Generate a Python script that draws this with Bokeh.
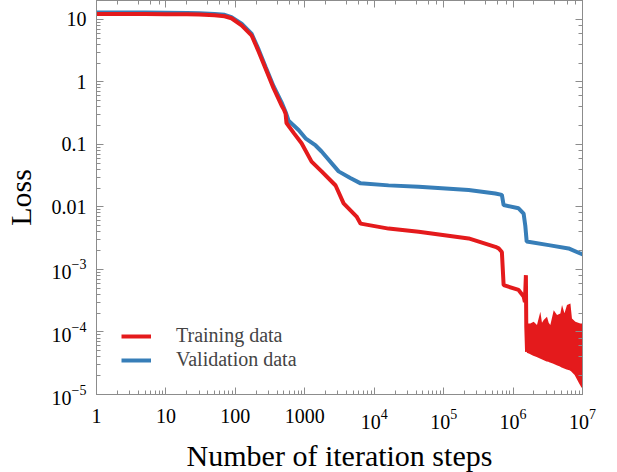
from bokeh.plotting import figure
from bokeh.models import LogAxis, LogTickFormatter
from bokeh.embed import file_html
from bokeh.resources import INLINE

# Training loss (red)
train_x = [1, 2, 5, 10, 20, 30, 50, 70, 88, 123, 171, 216, 272, 355, 463, 500, 529,
           545, 700, 899, 1253, 1746, 2778, 3624, 5575, 6370, 16100, 43700, 229000,
           556000, 620000, 690000, 731000, 1.2e6, 1.42e6, 1.48e6, 1.53e6, 1.55e6, 1.59e6]
train_y = [12.2, 12.2, 12.2, 12.1, 12.0, 11.9, 11.6, 11.2, 10.4, 8.0, 5.55, 3.07, 1.64,
           0.79, 0.42, 0.36, 0.31, 0.22, 0.15, 0.104, 0.053, 0.037, 0.022, 0.0114,
           0.0070, 0.0054, 0.0045, 0.0040, 0.00313, 0.0023, 0.00217, 0.0019, 0.00056,
           0.00047, 0.00037, 0.00030, 0.00081, 0.00012, 4.8e-5]

# Noisy tail of the training loss: lower and upper envelopes
noise_x = [1.59e6, 1.77e6, 1.98e6, 2.21e6, 2.47e6, 2.61e6, 2.76e6, 3.08e6, 3.26e6,
           3.44e6, 3.85e6, 4.3e6, 4.8e6, 5.07e6, 5.5e6, 5.98e6, 6.7e6, 7.05e6, 7.9e6,
           9.3e6, 1e7]
noise_low = [4.8e-5, 4.6e-5, 4.3e-5, 4.1e-5, 3.9e-5, 3.8e-5, 3.7e-5, 3.5e-5, 3.45e-5,
             3.35e-5, 3.2e-5, 3.05e-5, 2.9e-5, 2.8e-5, 2.7e-5, 2.6e-5, 2.5e-5, 2.4e-5,
             2.1e-5, 1.5e-5, 1.3e-5]
noise_high = [1.37e-4, 1.37e-4, 1.46e-4, 1.29e-4, 2.1e-4, 1.4e-4, 1.55e-4, 1.75e-4, 1.4e-4,
              1.29e-4, 2.23e-4, 1.86e-4, 1.98e-4, 2.69e-4, 2.0e-4, 2.69e-4, 2.86e-4, 1.64e-4,
              1.46e-4, 1.37e-4, 1.37e-4]

# Validation loss (blue)
val_x = [1, 2, 5, 10, 20, 30, 50, 70, 88, 123, 171, 216, 272, 355, 463, 529, 584, 814,
         1025, 1432, 1746, 3070, 4520, 6370, 16100, 43700, 229000, 556000, 690000,
         731000, 1.2e6, 1.42e6, 1.5e6, 1.57e6, 3.26e6, 6.3e6, 9.3e6, 1e7]
val_y = [12.8, 12.8, 12.8, 12.7, 12.6, 12.5, 12.2, 11.8, 10.8, 8.5, 5.9, 3.3, 1.75, 0.85,
         0.47, 0.33, 0.24, 0.17, 0.125, 0.096, 0.077, 0.037, 0.029, 0.0238, 0.0221,
         0.021, 0.0186, 0.0164, 0.0156, 0.0107, 0.0095, 0.0078, 0.005, 0.0028, 0.00245,
         0.00217, 0.0018, 0.00175]

RED = "#e41a1c"
BLUE = "#377eb8"
GRAY = "#8c8c8c"
FONT = "Liberation Serif"

p = figure(frame_width=486, frame_height=394, x_axis_type="log", y_axis_type="log",
           x_range=(1, 1e7), y_range=(1e-5, 20),
           output_backend="svg", toolbar_location=None,
           min_border_left=90, min_border_right=16, min_border_top=0, min_border_bottom=76)

p.line(val_x, val_y, line_color=BLUE, line_width=4, legend_label="Validation data")
p.varea(x=noise_x, y1=noise_low, y2=noise_high, fill_color=RED)
p.line(noise_x, noise_low, line_color=RED, line_width=2)
p.line(train_x, train_y, line_color=RED, line_width=4, legend_label="Training data")

p.grid.visible = False
p.outline_line_color = GRAY
p.background_fill_color = "white"
p.border_fill_color = "white"

p.xaxis.formatter = LogTickFormatter(min_exponent=4)
p.yaxis.formatter = LogTickFormatter(min_exponent=3)

for ax in [p.xaxis[0], p.yaxis[0]]:
    ax.axis_line_color = GRAY
    ax.major_tick_line_color = GRAY
    ax.minor_tick_line_color = GRAY
    ax.major_tick_in = 7
    ax.major_tick_out = 0
    ax.minor_tick_in = 4
    ax.minor_tick_out = 0
    ax.major_label_text_font = FONT
    ax.major_label_text_font_size = "20px"
    ax.major_label_text_color = "black"
    ax.axis_label_text_font = FONT
    ax.axis_label_text_font_size = "30px"
    ax.axis_label_text_font_style = "normal"
    ax.axis_label_text_color = "black"

p.xaxis.axis_label = "Number of iteration steps"
p.yaxis.axis_label = "Loss"
p.xaxis.major_label_standoff = 14
p.xaxis.axis_label_standoff = 7
p.yaxis.major_label_standoff = 10
p.yaxis.axis_label_standoff = 12

for loc in ["above", "right"]:
    ax = LogAxis(axis_line_color=GRAY, major_tick_line_color=GRAY, minor_tick_line_color=GRAY,
                 major_tick_in=7, major_tick_out=0, minor_tick_in=4, minor_tick_out=0,
                 major_label_text_font_size="1px", major_label_text_alpha=0,
                 major_label_standoff=0)
    p.add_layout(ax, loc)

leg = p.legend[0]
# order: training first
leg.items = [leg.items[1], leg.items[0]]
leg.location = (25, 23)
leg.border_line_color = None
leg.background_fill_alpha = 0
leg.label_text_font = FONT
leg.label_text_font_size = "20px"
leg.glyph_width = 30
leg.label_standoff = 25
leg.spacing = 1
leg.padding = 0
leg.margin = 0

open("out.html", "w").write(file_html(p, INLINE))
